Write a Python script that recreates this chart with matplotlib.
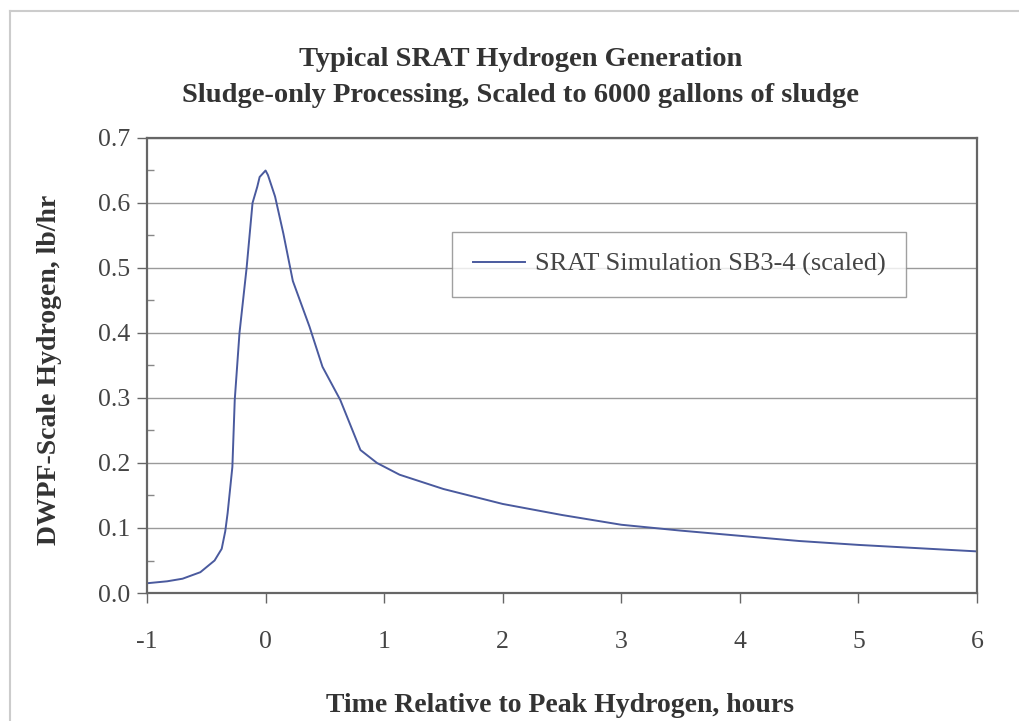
import numpy as np
import matplotlib
matplotlib.use("Agg")
import matplotlib.pyplot as plt
from matplotlib.lines import Line2D

# values
time_hr = [-1.0, -0.83, -0.70, -0.55, -0.43, -0.37, -0.34, -0.32, -0.28, -0.26,
           -0.22, -0.16, -0.11, -0.07, -0.05, 0.0, 0.02, 0.08, 0.15, 0.23,
           0.37, 0.48, 0.63, 0.80, 0.94, 1.13, 1.5, 2.0, 2.5, 3.0,
           3.5, 4.0, 4.5, 5.0, 5.5, 6.0]
h2_lb_hr = [0.015, 0.018, 0.022, 0.032, 0.050, 0.068, 0.095, 0.123, 0.194, 0.297,
            0.40, 0.50, 0.600, 0.625, 0.640, 0.650, 0.643, 0.610, 0.553, 0.480,
            0.41, 0.348, 0.297, 0.220, 0.200, 0.182, 0.160, 0.137, 0.120, 0.105,
            0.096, 0.088, 0.080, 0.074, 0.069, 0.064]

series_label = "SRAT Simulation SB3-4 (scaled)"
title_lines = ["Typical SRAT Hydrogen Generation",
               "Sludge-only Processing, Scaled to 6000 gallons of sludge"]
xlabel = "Time Relative to Peak Hydrogen, hours"
ylabel = "DWPF-Scale Hydrogen, lb/hr"
xticks = [-1, 0, 1, 2, 3, 4, 5, 6]
yticks = [0.0, 0.1, 0.2, 0.3, 0.4, 0.5, 0.6, 0.7]

plt.rcParams["font.family"] = ["Liberation Serif", "DejaVu Serif"]
plt.rcParams["axes.unicode_minus"] = False

fig = plt.figure(figsize=(10.19, 7.21), dpi=100)
ax = fig.add_axes([147 / 1019, 1 - 593 / 721, 830 / 1019, 455 / 721])

ax.plot(time_hr, h2_lb_hr, color="#4a5a9e", lw=1.4, label=series_label)

ax.set_xlim(-1, 6)
ax.set_ylim(0, 0.7)
ax.set_xticks(xticks)
ax.set_yticks(yticks)
ax.set_yticks(np.arange(0.05, 0.7, 0.1), minor=True)
ax.yaxis.set_major_formatter(matplotlib.ticker.FormatStrFormatter("%.1f"))
ax.tick_params(axis="both", which="major", direction="out", length=7,
               width=1, color="#666666", labelsize=18.5, labelcolor="#444444")
ax.tick_params(axis="x", pad=20)
ax.tick_params(axis="y", pad=5)
ax.tick_params(axis="y", which="minor", direction="in", length=5,
               width=1, color="#888888")
ax.grid(axis="y", which="major", color="#9a9a9a", lw=1)
for s in ax.spines.values():
    s.set_color("#666666")
    s.set_linewidth(1.6)

fig.text(0.511, 1 - 59 / 721, title_lines[0], ha="center", va="center",
         fontsize=20.5, fontweight="bold", color="#333333")
fig.text(0.511, 1 - 95 / 721, title_lines[1], ha="center", va="center",
         fontsize=20.5, fontweight="bold", color="#333333")
fig.text(0.55, 1 - 705 / 721, xlabel, ha="center", va="center",
         fontsize=20, fontweight="bold", color="#333333")
fig.text(50 / 1019, 1 - 370 / 721, ylabel, ha="center", va="center",
         rotation=90, fontsize=20, fontweight="bold", color="#333333")

leg = ax.legend(loc="upper left", bbox_to_anchor=(305 / 830, 1 - 361 / 455 + 0.0),
                borderaxespad=0, fontsize=19, frameon=True, fancybox=False,
                handlelength=2.0, handletextpad=0.35, borderpad=0.78,
                labelcolor="#444444")
leg.set_bbox_to_anchor((305 / 830, 361 / 455), transform=ax.transAxes)
leg.get_frame().set_edgecolor("#888888")
leg.get_frame().set_linewidth(1.0)

# faint outer border of the scanned page
fig.add_artist(Line2D([10 / 1019, 1.0], [1 - 11 / 721, 1 - 11 / 721],
                      color="#cccccc", lw=1.5, transform=fig.transFigure))
fig.add_artist(Line2D([10 / 1019, 10 / 1019], [0, 1 - 11 / 721],
                      color="#cccccc", lw=1.5, transform=fig.transFigure))

fig.savefig("out.png", dpi=100)
